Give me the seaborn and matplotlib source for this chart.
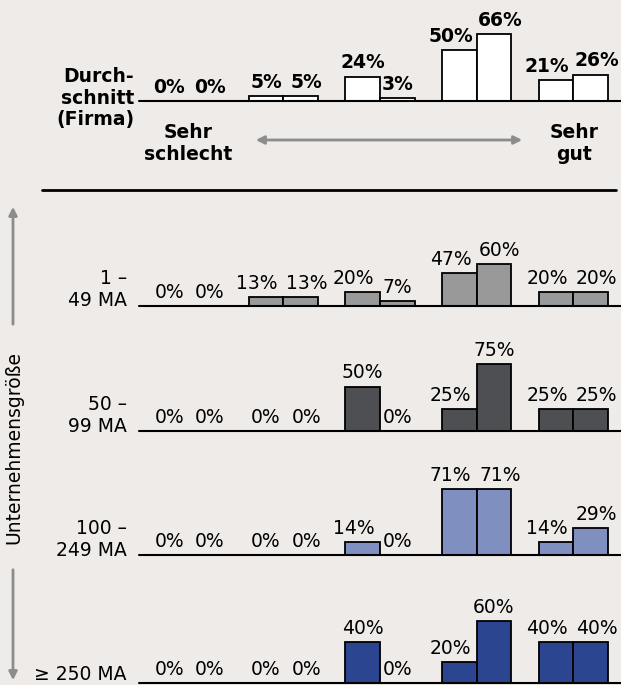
import pandas as pd
import matplotlib.pyplot as plt
from matplotlib.patches import FancyArrowPatch
import seaborn as sns

sns.set_style("white")
plt.rcParams['font.family'] = ['DejaVu Sans']
plt.rcParams['text.color'] = 'black'

# rating levels, "Sehr schlecht" (0) to "Sehr gut" (4)
levels = [0, 1, 2, 3, 4]
series = ['A', 'B']

row_labels = ['Durch-\nschnitt\n(Firma)', '1 –\n49 MA', '50 –\n99 MA', '100 –\n249 MA', '≥ 250 MA']
vals_a = [
    [0, 5, 24, 50, 21],
    [0, 13, 20, 47, 20],
    [0, 0, 50, 25, 25],
    [0, 0, 14, 71, 14],
    [0, 0, 40, 20, 40],
]
vals_b = [
    [0, 5, 3, 66, 26],
    [0, 13, 7, 60, 20],
    [0, 0, 0, 75, 25],
    [0, 0, 0, 71, 29],
    [0, 0, 0, 60, 40],
]
row_colors = ['#FFFFFF', '#999999', '#4E4F53', '#7F8FBF', '#2B4590']

# layout in pixels (baseline y, pixels per percent)
W, H = 621, 685
baselines = [101, 306, 431, 555, 683]
px_per_pct = [1.015, 0.70, 0.89, 0.93, 1.03]
ax_left, ax_right = 139, 621
ax_h = 80
FS = 13.5

bg = '#EEEBE9'
fig = plt.figure(figsize=(W / 100, H / 100), dpi=100, facecolor=bg)


def label_shifts(a, b, ppp, top_row):
    """push the two labels of a pair apart when they would collide"""
    hl, hr = a * ppp, b * ppp
    dl = -9 if (a > 0 and hr >= hl - 15 and not (top_row and a == b)) else 0
    dr = 6 if (b >= a and abs(hr - hl) < 20) else 0
    return dl, dr


for i in range(5):
    df = pd.DataFrame({
        'level': levels * 2,
        'series': ['A'] * 5 + ['B'] * 5,
        'value': vals_a[i] + vals_b[i],
    })
    ax = fig.add_axes([ax_left / W, 1 - baselines[i] / H,
                       (ax_right - ax_left) / W, ax_h / H])
    sns.barplot(data=df, x='level', y='value', hue='series', order=levels,
                hue_order=series, palette=[row_colors[i]] * 2, saturation=1,
                edgecolor='black', linewidth=1.3, width=0.714, gap=0,
                errorbar=None, legend=False, ax=ax)
    ax.set_xlim(-0.492, 4.492)
    ax.set_ylim(0, ax_h / px_per_pct[i])
    ax.axis('off')
    ax.axhline(0, color='black', lw=1.5, clip_on=False, zorder=5)

    weight = 'bold' if i == 0 else 'normal'
    bars_a, bars_b = ax.containers[0], ax.containers[1]
    for k in range(5):
        dl, dr = label_shifts(vals_a[i][k], vals_b[i][k], px_per_pct[i], i == 0)
        for bar, v, d in [(bars_a[k], vals_a[i][k], dl), (bars_b[k], vals_b[i][k], dr)]:
            xc = bar.get_x() + bar.get_width() / 2
            ax.annotate(f'{v}%', xy=(xc, v), xytext=(d * 0.72, 3),
                        textcoords='offset points', ha='center', va='bottom',
                        fontsize=FS, fontweight=weight, annotation_clip=False)

    if i == 0:
        fig.text(134 / W, 1 - 98 / H, row_labels[i], ha='right', va='center',
                 fontsize=FS, fontweight='bold', linespacing=1.2)
    elif i == 4:
        fig.text(127 / W, 1 - 675 / H, row_labels[i], ha='right', va='center',
                 fontsize=FS)
    else:
        fig.text(127 / W, 1 - (baselines[i] - 16) / H, row_labels[i],
                 ha='right', va='center', fontsize=FS, linespacing=1.2)

# scale ends under the top row
fig.text(188 / W, 1 - 143 / H, 'Sehr\nschlecht', ha='center', va='center',
         fontsize=FS, fontweight='bold', linespacing=1.2)
fig.text(574 / W, 1 - 143 / H, 'Sehr\ngut', ha='center', va='center',
         fontsize=FS, fontweight='bold', linespacing=1.2)
fig.patches.append(FancyArrowPatch(
    (253 / W, 1 - 140 / H), (525 / W, 1 - 140 / H), transform=fig.transFigure,
    arrowstyle='<|-|>', color='#8C8C8C', lw=2, mutation_scale=12))

# separator
fig.add_artist(plt.Line2D([42 / W, 616 / W], [1 - 190 / H, 1 - 190 / H],
                          color='black', lw=2, transform=fig.transFigure))

# company size axis on the left
for y0, y1 in [(327, 204), (567, 683)]:
    fig.patches.append(FancyArrowPatch(
        (13 / W, 1 - y0 / H), (13 / W, 1 - y1 / H), transform=fig.transFigure,
        arrowstyle='-|>', color='#8C8C8C', lw=2, mutation_scale=12))
fig.text(14 / W, 1 - 448 / H, 'Unternehmensgröße', rotation=90,
         ha='center', va='center', fontsize=FS)

fig.savefig('out.png', dpi=100, facecolor=bg)
